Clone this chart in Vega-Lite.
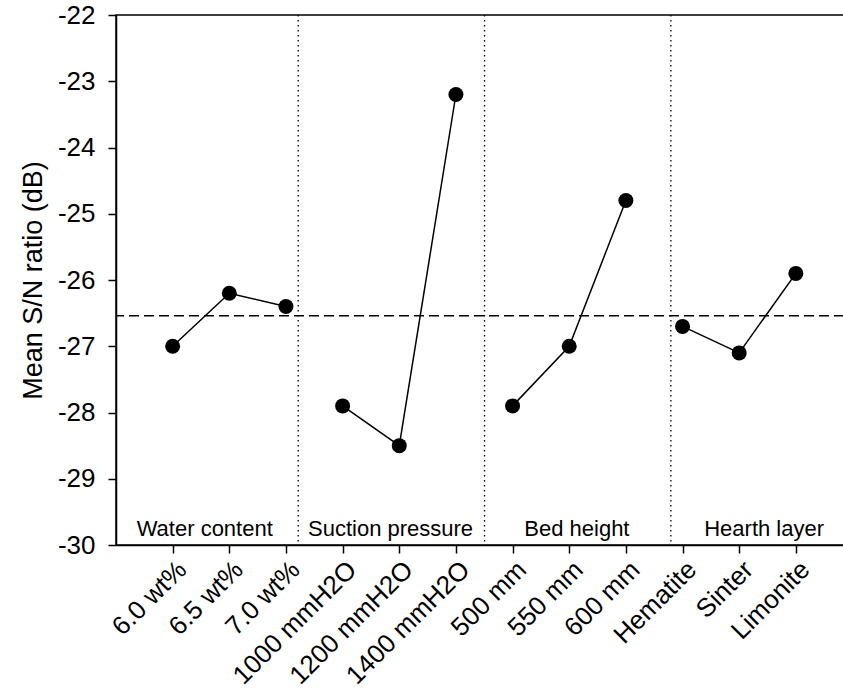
{
  "$schema": "https://vega.github.io/schema/vega-lite/v6.json",
  "autosize": "none",
  "padding": {"left": 116, "top": 15, "right": 0, "bottom": 148},
  "width": 728,
  "height": 530,
  "background": "white",
  "config": {
    "view": {"stroke": "black", "strokeWidth": 1.5},
    "font": "Liberation Sans",
    "axis": {
      "grid": false,
      "domainColor": "black",
      "domainWidth": 1.5,
      "tickColor": "black",
      "tickWidth": 1.5,
      "tickSize": 8,
      "labelColor": "black",
      "labelFont": "Liberation Sans",
      "labelFontSize": 26,
      "titleFont": "Liberation Sans",
      "titleFontSize": 27,
      "titleFontWeight": "normal",
      "titleColor": "black"
    }
  },
  "datasets": {
    "levels": [
      {"i": 1, "label": "6.0 wt%", "group": "Water content", "sn": -27.0},
      {"i": 2, "label": "6.5 wt%", "group": "Water content", "sn": -26.2},
      {"i": 3, "label": "7.0 wt%", "group": "Water content", "sn": -26.4},
      {"i": 4, "label": "1000 mmH2O", "group": "Suction pressure", "sn": -27.9},
      {"i": 5, "label": "1200 mmH2O", "group": "Suction pressure", "sn": -28.5},
      {"i": 6, "label": "1400 mmH2O", "group": "Suction pressure", "sn": -23.2},
      {"i": 7, "label": "500 mm", "group": "Bed height", "sn": -27.9},
      {"i": 8, "label": "550 mm", "group": "Bed height", "sn": -27.0},
      {"i": 9, "label": "600 mm", "group": "Bed height", "sn": -24.8},
      {"i": 10, "label": "Hematite", "group": "Hearth layer", "sn": -26.7},
      {"i": 11, "label": "Sinter", "group": "Hearth layer", "sn": -27.1},
      {"i": 12, "label": "Limonite", "group": "Hearth layer", "sn": -25.9}
    ],
    "separators": [{"x": 3.216}, {"x": 6.505}, {"x": 9.794}],
    "mean": [{"sn": -26.54}],
    "groups": [
      {"x": 1.566, "y": -29.86, "name": "Water content"},
      {"x": 4.846, "y": -29.86, "name": "Suction pressure"},
      {"x": 8.135, "y": -29.86, "name": "Bed height"},
      {"x": 11.44, "y": -29.86, "name": "Hearth layer"}
    ]
  },
  "layer": [
    {
      "data": {"name": "separators"},
      "mark": {"type": "rule", "color": "black", "strokeWidth": 1.3, "strokeDash": [1.5, 3.5]},
      "encoding": {
        "x": {"field": "x", "type": "quantitative", "scale": {"domain": [0, 12.85]}}
      }
    },
    {
      "data": {"name": "mean"},
      "mark": {"type": "rule", "color": "black", "strokeWidth": 1.3, "strokeDash": [10, 5]},
      "encoding": {
        "y": {"field": "sn", "type": "quantitative"}
      }
    },
    {
      "data": {"name": "levels"},
      "mark": {"type": "line", "color": "black", "strokeWidth": 1.5},
      "encoding": {
        "x": {"field": "i", "type": "quantitative"},
        "y": {"field": "sn", "type": "quantitative"},
        "detail": {"field": "group"}
      }
    },
    {
      "data": {"name": "levels"},
      "mark": {"type": "point", "shape": "circle", "filled": true, "color": "black", "opacity": 1, "size": 225},
      "encoding": {
        "x": {
          "field": "i", "type": "quantitative",
          "scale": {"domain": [0, 12.85], "nice": false, "zero": false},
          "axis": {
            "title": null,
            "values": [1, 2, 3, 4, 5, 6, 7, 8, 9, 10, 11, 12],
            "labelExpr": "['6.0 wt%','6.5 wt%','7.0 wt%','1000 mmH2O','1200 mmH2O','1400 mmH2O','500 mm','550 mm','600 mm','Hematite','Sinter','Limonite'][datum.value - 1]",
            "labelAngle": -45,
            "labelAlign": "right",
            "labelBaseline": "top",
            "labelPadding": 3,
            "labelOverlap": false,
            "labelBound": false,
            "labelFlush": false
          }
        },
        "y": {
          "field": "sn", "type": "quantitative",
          "scale": {"domain": [-30, -22], "nice": false, "zero": false},
          "axis": {
            "title": "Mean S/N ratio (dB)",
            "values": [-30, -29, -28, -27, -26, -25, -24, -23, -22],
            "labelExpr": "'-' + toString(abs(datum.value))",
            "labelPadding": 13,
            "titlePadding": 10,
            "labelOverlap": false
          }
        }
      }
    },
    {
      "data": {"name": "groups"},
      "mark": {"type": "text", "font": "Liberation Sans", "fontSize": 22, "color": "black", "align": "center", "baseline": "alphabetic"},
      "encoding": {
        "x": {"field": "x", "type": "quantitative"},
        "y": {"field": "y", "type": "quantitative"},
        "text": {"field": "name"}
      }
    }
  ]
}
